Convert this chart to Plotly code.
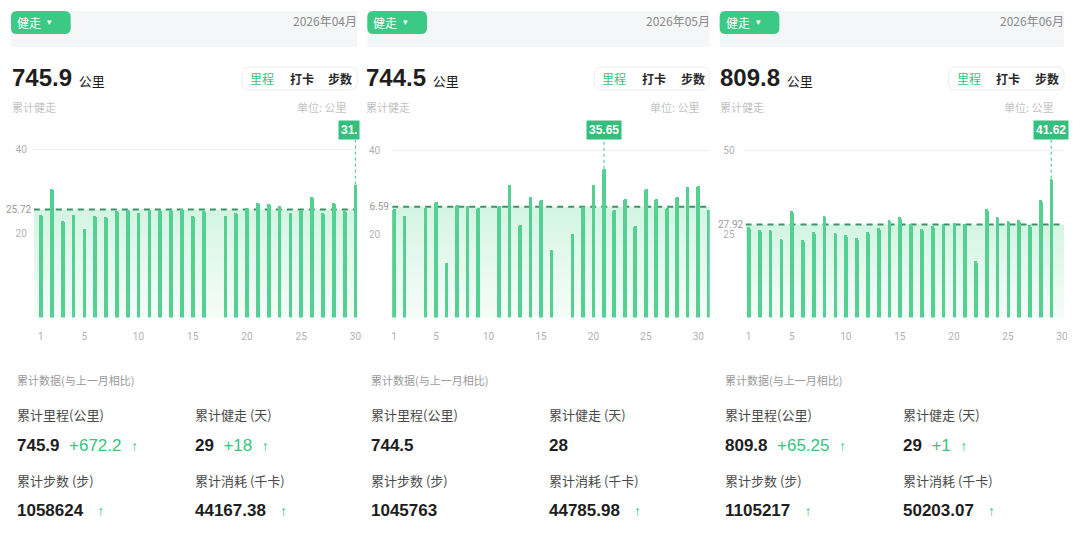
import plotly.graph_objects as go

W, H = 1080, 540

# ---------------- data ----------------
months = ["2026年04月", "2026年05月", "2026年06月"]
apr_days = list(range(1, 31))
apr_km = [24.5, 30.5, 23.0, 24.3, 21.0, 24.1, 24.0, 25.4, 25.6, 25.0,
          25.6, 25.6, 25.6, 25.8, 24.1, 25.3, 0, 24.1, 24.9, 26.1,
          27.2, 27.0, 26.6, 25.0, 25.6, 28.6, 25.0, 27.2, 25.4, 31.62]
may_days = list(range(1, 32))
may_km = [26.0, 24.4, 0, 26.2, 27.8, 13.0, 27.0, 26.8, 26.2, 0,
          26.8, 31.7, 22.2, 28.9, 28.2, 16.2, 0, 20.0, 26.5, 31.7,
          35.65, 25.8, 28.4, 22.0, 30.8, 28.5, 26.2, 28.8, 31.3, 31.6, 25.85]
jun_days = list(range(1, 31))
jun_km = [27.1, 26.3, 26.1, 23.6, 32.0, 23.3, 25.5, 30.3, 25.3, 24.6,
          23.8, 25.5, 26.8, 29.3, 30.0, 28.1, 26.6, 27.5, 28.1, 28.3,
          28.0, 17.0, 32.5, 30.1, 28.8, 29.3, 27.8, 35.1, 41.62, 0]
month_totals = ["745.9", "744.5", "809.8"]
avg_km = [25.72, 26.59, 27.92]
y_ticks = [[20, 40], [20, 40], [25, 50]]
x_ticks = [1, 5, 10, 15, 20, 25, 30]
km_delta = ["+672.2", "", "+65.25"]
walk_days = ["29", "28", "29"]
days_delta = ["+18", "", "+1"]
steps_total = ["1058624", "1045763", "1105217"]
steps_up = [True, False, True]
kcal_total = ["44167.38", "44785.98", "50203.07"]
kcal_up = [True, True, True]

# ---------------- style / geometry ----------------
BAR = "#55d093"
GREEN = "#36c481"
PILL = "#3bc985"
DASH = "#3f916a"
NUM = "Liberation Sans Narrow, Liberation Sans, Arial, sans-serif"
CJK = "Noto Sans CJK SC, Noto Sans, sans-serif"
TICK = "Roboto, Noto Sans, sans-serif"
PAD = 3  # annotation inner padding compensation

band_left = [10, 368, 722]
right_edge = [358, 712, 1068]
big_x = [12, 368, 723]
stats_x = [17, 373, 728]
stats_x2 = [196, 552, 907]
dom_px = [(33, 358), (393, 712), (748, 1068)]
xr = [(0.358, 30.18), (0.81, 31.08), (0.724, 30.19)]
yr_top = [42.26, 42.57, 53.24]
ticklen_y = [4, 9, 8]
PLOT_TOP, PLOT_BOT = 140, 317.5


def X(p):
    return p / W


def Y(p):
    return 1 - p / H


def rrect(x0, y0, x1, y1, r):
    rx, ry = r, r
    pts = [
        ("M", [(x0 + rx, y0)]),
        ("L", [(x1 - rx, y0)]),
        ("Q", [(x1, y0), (x1, y0 + ry)]),
        ("L", [(x1, y1 - ry)]),
        ("Q", [(x1, y1), (x1 - rx, y1)]),
        ("L", [(x0 + rx, y1)]),
        ("Q", [(x0, y1), (x0, y1 - ry)]),
        ("L", [(x0, y0 + ry)]),
        ("Q", [(x0, y0), (x0 + rx, y0)]),
    ]
    s = ""
    for cmd, ps in pts:
        s += cmd + " ".join(f"{X(a):.5f},{Y(b):.5f}" for a, b in ps) + " "
    return s + "Z"


annotations = []
shapes = []


def txt(x, y, s, size, color, family=CJK, xanchor="left", **kw):
    if xanchor == "left":
        x -= PAD
    elif xanchor == "right":
        x += PAD
    d = dict(x=X(x), y=Y(y), xref="paper", yref="paper", text=s, showarrow=False,
             xanchor=xanchor, yanchor="middle", font=dict(size=size, color=color, family=family))
    d.update(kw)
    annotations.append(d)


fig = go.Figure()
series = [(apr_days, apr_km), (may_days, may_km), (jun_days, jun_km)]
layout_axes = {}

for i in range(3):
    n = i + 1
    xa = "x" if n == 1 else f"x{n}"
    ya = "y" if n == 1 else f"y{n}"
    yo = f"y{n + 3}"
    days, vals = series[i]
    x0, x1 = xr[i]
    avg = avg_km[i]
    L, R = band_left[i], right_edge[i]

    # light gradient area under average
    fig.add_trace(go.Scatter(
        x=[x0, x1], y=[avg, avg], xaxis=xa, yaxis=ya, mode="lines",
        line=dict(width=0), fill="tozeroy",
        fillgradient=dict(type="vertical",
                          colorscale=[[0, "rgba(240,251,245,0.7)"], [1, "rgba(208,244,224,0.95)"]]),
        hoverinfo="skip", showlegend=False))
    # average dashed line
    fig.add_trace(go.Scatter(
        x=[x0, x1], y=[avg, avg], xaxis=xa, yaxis=ya, mode="lines",
        line=dict(color=DASH, width=2, dash="6px,5px"),
        hoverinfo="skip", showlegend=False))
    # bars
    fig.add_trace(go.Bar(
        x=days, y=vals, xaxis=xa, yaxis=yo, width=0.34,
        marker=dict(color=BAR, cornerradius=2, line=dict(width=0)),
        hoverinfo="skip", showlegend=False))
    # peak dotted line
    k = max(range(len(vals)), key=lambda j: vals[j])
    fig.add_trace(go.Scatter(
        x=[days[k], days[k]], y=[vals[k], yr_top[i]], xaxis=xa, yaxis=yo, mode="lines",
        line=dict(color=GREEN, width=1, dash="dot"), hoverinfo="skip", showlegend=False))

    key = "" if n == 1 else str(n)
    layout_axes["xaxis" + key] = dict(
        domain=[X(dom_px[i][0]), X(dom_px[i][1])], range=[x0, x1], anchor=ya,
        tickvals=x_ticks, ticks="outside", ticklen=9, tickcolor="rgba(0,0,0,0)",
        showgrid=False, zeroline=False, showline=False, fixedrange=True,
        tickfont=dict(size=10, color="#b0b0b0", family=TICK))
    layout_axes["yaxis" + key] = dict(
        domain=[Y(PLOT_BOT), Y(PLOT_TOP)], range=[0, yr_top[i]], anchor=xa,
        tickvals=y_ticks[i], ticks="outside", ticklen=ticklen_y[i], tickcolor="rgba(0,0,0,0)",
        showgrid=False, zeroline=False, showline=False, fixedrange=True,
        tickfont=dict(size=10, color="#b0b0b0", family=TICK))
    layout_axes[f"yaxis{n + 3}"] = dict(
        overlaying=ya, anchor=xa, range=[0, yr_top[i]], visible=False, fixedrange=True)

    # top gridline
    shapes.append(dict(type="line", xref=f"{xa} domain", x0=0, x1=1, yref=ya,
                       y0=y_ticks[i][1], y1=y_ticks[i][1], line=dict(color="#eeeeee", width=1),
                       layer="below"))

    # average label
    avg_kw = dict(width=20, align="right") if i == 1 else {}
    annotations.append(dict(
        x=X(dom_px[i][0] - 1), xref="paper", y=avg, yref=ya, text=f"{avg:.2f}",
        showarrow=False, xanchor="right", yanchor="middle",
        font=dict(size=10, color="#9a9a9a", family=TICK), **avg_kw))

    # peak label
    pk = dict(y=1, yref=f"{ya} domain", yanchor="bottom", showarrow=False,
              text=f"<b>{vals[k]:.2f}</b>", bgcolor="#33bf7d", borderpad=2,
              font=dict(size=12, color="white", family=NUM))
    if i == 0:
        pk.update(x=X(339), xref="paper", xanchor="left", width=16, align="left")
    else:
        pk.update(x=days[k], xref=xa, xanchor="center")
    annotations.append(pk)

    # header band and pill
    shapes.append(dict(type="rect", xref="paper", yref="paper", x0=X(L), x1=X(R),
                       y0=Y(47), y1=Y(11), fillcolor="#f5f6f8", line=dict(width=0), layer="below"))
    shapes.append(dict(type="path", xref="paper", yref="paper", path=rrect(L, 11, L + 60, 34, 6),
                       fillcolor=PILL, line=dict(width=0), layer="below"))
    txt(L + 7, 22.5, "健走", 12, "white")
    txt(L + 37, 22.5, "▾", 9, "white", family="DejaVu Sans")
    txt(R - 1, 21, months[i], 12, "#8a8a8a", xanchor="right")

    # big total
    txt(big_x[i], 78,
        f"<b>{month_totals[i]}</b>\u00a0<span style='font-size:13px;font-family:Noto Sans CJK SC'>公里</span>",
        24, "#1e1e1e", family=NUM)
    # tabs
    shapes.append(dict(type="path", xref="paper", yref="paper", path=rrect(R - 116, 67, R, 90, 8),
                       fillcolor="white", line=dict(color="#ececec", width=1), layer="below"))
    txt(R - 96, 78.5, "里程", 12, GREEN, xanchor="center")
    txt(R - 56, 78.5, "<b>打卡</b>", 12, "#2a2a2a", xanchor="center")
    txt(R - 17, 78.5, "<b>步数</b>", 12, "#2a2a2a", xanchor="center")
    txt(big_x[i], 107, "累计健走", 11, "#c2c2c2")
    txt(R - 11, 107, "单位: 公里", 11, "#c2c2c2", xanchor="right")

    # stats block
    sx, sx2 = stats_x[i], stats_x2[i]
    txt(sx, 380, "累计数据(与上一月相比)", 11, "#9a9a9a")
    txt(sx, 414, "累计里程(公里)", 13, "#4a4a4a")
    txt(sx2, 414, "累计健走 (天)", 13, "#4a4a4a")
    txt(sx, 480, "累计步数 (步)", 13, "#4a4a4a")
    txt(sx2, 480, "累计消耗 (千卡)", 13, "#4a4a4a")

    arrow = f"<span style='color:{GREEN};font-size:14px'>↑</span>"
    s1 = f"<b>{month_totals[i]}</b>"
    if km_delta[i]:
        s1 += f"\u00a0\u00a0<span style='color:{GREEN}'>{km_delta[i]}</span>\u00a0\u00a0" + arrow
    txt(sx, 445, s1, 17, "#1e1e1e", family=NUM)
    s2 = f"<b>{walk_days[i]}</b>"
    if days_delta[i]:
        s2 += f"\u00a0\u00a0<span style='color:{GREEN}'>{days_delta[i]}</span>\u00a0\u00a0" + arrow
    txt(sx2, 445, s2, 17, "#1e1e1e", family=NUM)
    s3 = f"<b>{steps_total[i]}</b>" + ("\u00a0\u00a0\u00a0" + arrow if steps_up[i] else "")
    txt(sx, 510, s3, 17, "#1e1e1e", family=NUM)
    s4 = f"<b>{kcal_total[i]}</b>" + ("\u00a0\u00a0\u00a0" + arrow if kcal_up[i] else "")
    txt(sx2, 510, s4, 17, "#1e1e1e", family=NUM)

fig.update_layout(
    width=W, height=H, autosize=False,
    margin=dict(l=0, r=0, t=0, b=0),
    paper_bgcolor="white", plot_bgcolor="rgba(0,0,0,0)",
    showlegend=False, bargap=0,
    annotations=annotations, shapes=shapes,
    **layout_axes)

fig.write_html("out.html", config={"displayModeBar": False})
